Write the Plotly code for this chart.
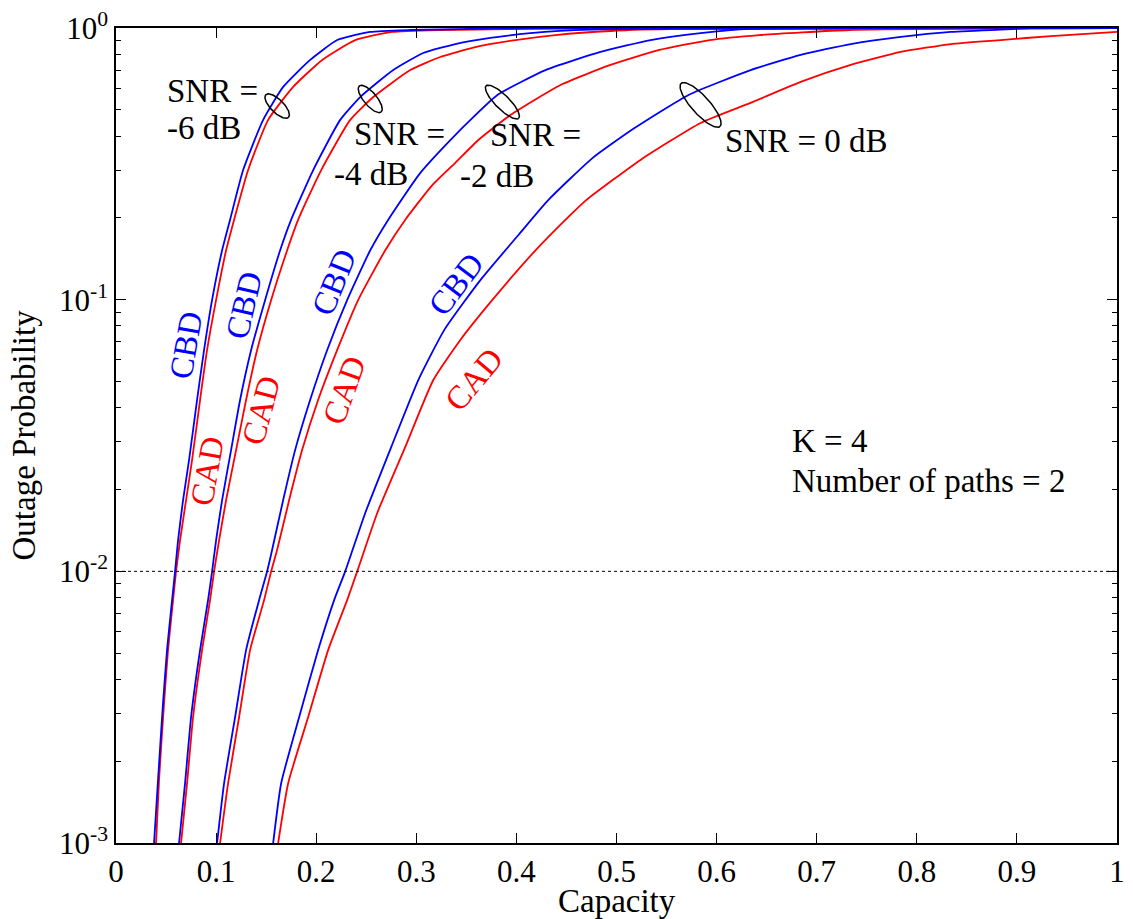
import numpy as np
import plotly.graph_objects as go

# ---- outage CDFs per SNR: capacity (x) and outage probability (y) ----
cap_cbd_m6 = [0.038, 0.042, 0.047, 0.051, 0.055, 0.059, 0.062, 0.067, 0.073, 0.081, 0.088, 0.096,
              0.106, 0.114, 0.127, 0.147, 0.167, 0.194, 0.221, 0.254, 0.294, 0.384, 1.0]
out_cbd_m6 = [1e-3, 1.71e-3, 3.28e-3, 5.14e-3, 7.21e-3, 1e-2, 0.013, 0.0183, 0.0257, 0.0428, 0.0653, 0.0998,
              0.152, 0.197, 0.300, 0.459, 0.607, 0.763, 0.903, 0.967, 0.983, 0.996, 1.0]
cap_cad_m6 = [0.040, 0.043, 0.048, 0.052, 0.056, 0.060, 0.064, 0.070, 0.076, 0.084, 0.091, 0.100,
              0.110, 0.118, 0.132, 0.152, 0.177, 0.206, 0.239, 0.276, 0.324, 0.454, 1.0]
out_cad_m6 = [1e-3, 1.71e-3, 3.28e-3, 5.14e-3, 7.21e-3, 1e-2, 0.013, 0.0183, 0.0257, 0.0428, 0.0653, 0.0998,
              0.152, 0.197, 0.300, 0.459, 0.607, 0.763, 0.903, 0.967, 0.983, 0.996, 1.0]

cap_cbd_m4 = [0.063, 0.069, 0.075, 0.084, 0.092, 0.096, 0.100, 0.106, 0.115, 0.124, 0.135, 0.149,
              0.164, 0.175, 0.197, 0.224, 0.244, 0.277, 0.307, 0.339, 0.374, 0.414, 0.474, 1.0]
out_cbd_m4 = [1e-3, 1.66e-3, 2.91e-3, 5.14e-3, 7.85e-3, 1e-2, 0.013, 0.0183, 0.028, 0.0428, 0.0653, 0.0998,
              0.152, 0.197, 0.300, 0.459, 0.557, 0.700, 0.809, 0.873, 0.919, 0.958, 0.987, 1.0]
cap_cad_m4 = [0.065, 0.071, 0.077, 0.086, 0.094, 0.098, 0.103, 0.110, 0.120, 0.130, 0.141, 0.155,
              0.171, 0.182, 0.205, 0.234, 0.257, 0.294, 0.324, 0.359, 0.399, 0.439, 0.494, 0.564, 1.0]
out_cad_m4 = [1e-3, 1.66e-3, 2.91e-3, 5.14e-3, 7.85e-3, 1e-2, 0.013, 0.0183, 0.028, 0.0428, 0.0653, 0.0998,
              0.152, 0.197, 0.300, 0.459, 0.557, 0.700, 0.782, 0.851, 0.903, 0.942, 0.975, 0.992, 1.0]

cap_cbd_m2 = [0.101, 0.108, 0.119, 0.130, 0.143, 0.151, 0.156, 0.167, 0.179, 0.194, 0.211, 0.231,
              0.254, 0.272, 0.304, 0.334, 0.359, 0.381, 0.429, 0.484, 0.534, 0.584, 0.634, 1.0]
out_cbd_m2 = [1e-3, 1.66e-3, 2.91e-3, 5.14e-3, 7.85e-3, 1e-2, 0.012, 0.0183, 0.028, 0.0428, 0.0653, 0.0998,
              0.152, 0.197, 0.293, 0.387, 0.478, 0.567, 0.700, 0.816, 0.903, 0.958, 0.992, 1.0]
cap_cad_m2 = [0.104, 0.112, 0.123, 0.134, 0.148, 0.155, 0.161, 0.173, 0.186, 0.202, 0.221, 0.242,
              0.269, 0.289, 0.316, 0.339, 0.362, 0.394, 0.444, 0.494, 0.543, 0.593, 0.643, 0.733, 1.0]
out_cad_m2 = [1e-3, 1.66e-3, 2.91e-3, 5.14e-3, 7.85e-3, 1e-2, 0.012, 0.0183, 0.028, 0.0428, 0.0653, 0.0998,
              0.152, 0.197, 0.264, 0.319, 0.387, 0.478, 0.617, 0.731, 0.830, 0.903, 0.942, 0.983, 1.0]

cap_cbd_0 = [0.157, 0.165, 0.183, 0.202, 0.218, 0.229, 0.249, 0.275, 0.302, 0.328, 0.364, 0.402,
             0.432, 0.476, 0.518, 0.572, 0.634, 0.684, 0.734, 0.784, 0.834, 0.884, 0.914, 1.0]
out_cbd_0 = [1e-3, 1.66e-3, 2.91e-3, 5.14e-3, 7.85e-3, 1e-2, 0.0164, 0.0287, 0.0506, 0.0774, 0.118, 0.173,
             0.233, 0.332, 0.428, 0.567, 0.700, 0.796, 0.873, 0.927, 0.967, 0.987, 0.996, 1.0]
cap_cad_0 = [0.162, 0.172, 0.192, 0.212, 0.231, 0.241, 0.261, 0.289, 0.317, 0.344, 0.376, 0.417,
             0.454, 0.470, 0.524, 0.584, 0.634, 0.684, 0.734, 0.784, 0.834, 0.884, 0.934, 1.0]
out_cad_0 = [1e-3, 1.66e-3, 2.91e-3, 5.14e-3, 7.85e-3, 1e-2, 0.0164, 0.0287, 0.0506, 0.0711, 0.0998, 0.149,
             0.205, 0.233, 0.327, 0.447, 0.530, 0.633, 0.731, 0.816, 0.873, 0.903, 0.934, 0.967]

target_outage = 1e-2

x_ticks = [0, 0.1, 0.2, 0.3, 0.4, 0.5, 0.6, 0.7, 0.8, 0.9, 1]
x_tick_text = ["0", "0.1", "0.2", "0.3", "0.4", "0.5", "0.6", "0.7", "0.8", "0.9", "1"]
y_ticks = [1e-3, 1e-2, 1e-1, 1]
y_tick_text = ["10<sup>-3</sup>", "10<sup>-2</sup>", "10<sup>-1</sup>", "10<sup>0</sup>"]
y_minor = [m * 10.0 ** e for e in (-3, -2, -1) for m in range(2, 10)]

FONT = "Liberation Serif"
FS = 33
FS_TICK = 31
BLUE = "#0000ff"
RED = "#ff0000"

W, H = 1001, 815          # plot area in px
M_L, M_R, M_T, M_B = 116, 16, 28, 76

fig = go.Figure()

curves = [
    (cap_cad_m6, out_cad_m6, RED), (cap_cbd_m6, out_cbd_m6, BLUE),
    (cap_cad_m4, out_cad_m4, RED), (cap_cbd_m4, out_cbd_m4, BLUE),
    (cap_cad_m2, out_cad_m2, RED), (cap_cbd_m2, out_cbd_m2, BLUE),
    (cap_cad_0, out_cad_0, RED), (cap_cbd_0, out_cbd_0, BLUE),
]
for cx, py, col in curves:
    fig.add_trace(go.Scatter(x=cx, y=py, mode="lines",
                             line=dict(color=col, width=1.8, shape="spline", smoothing=0.5),
                             hoverinfo="skip", showlegend=False))

# 1% outage reference line
fig.add_trace(go.Scatter(x=[0, 1], y=[target_outage, target_outage], mode="lines",
                         line=dict(color="black", width=1, dash="dot"),
                         hoverinfo="skip", showlegend=False))


def ellipse(cx, p, a, b, ang_deg):
    """Small ellipse (semi-axes a, b in px) grouping a curve pair."""
    t = np.linspace(0, 2 * np.pi, 120)
    ang = np.radians(ang_deg)
    ox = a * np.cos(t) * np.cos(ang) - b * np.sin(t) * np.sin(ang)
    oy = a * np.cos(t) * np.sin(ang) + b * np.sin(t) * np.cos(ang)
    xs = cx + ox / W
    ys = 10 ** (np.log10(p) + oy / H * 3)
    return xs, ys


for cx, p, a, b, ang in [(0.161, 0.516, 16, 6.5, -45),
                         (0.254, 0.548, 17, 6.5, -50),
                         (0.386, 0.534, 23, 7, -45),
                         (0.584, 0.521, 29, 9, -48)]:
    ex, ey = ellipse(cx, p, a, b, ang)
    fig.add_trace(go.Scatter(x=ex, y=ey, mode="lines", line=dict(color="black", width=1.5),
                             hoverinfo="skip", showlegend=False))

annotations = []
for txt, x, y in [("SNR =", 0.049, -0.232), ("-6 dB", 0.049, -0.368),
                  ("SNR =", 0.236, -0.390), ("-4 dB", 0.216, -0.537),
                  ("SNR =", 0.372, -0.394), ("-2 dB", 0.342, -0.545),
                  ("SNR = 0 dB", 0.606, -0.416),
                  ("K = 4", 0.673, -1.520), ("Number of paths = 2", 0.673, -1.667)]:
    annotations.append(dict(text=txt, x=x, y=y, xref="x", yref="y", xanchor="left",
                            yanchor="middle", showarrow=False,
                            font=dict(family=FONT, size=FS, color="black")))

for txt, col, x, y, ang in [("CBD", BLUE, 0.070, -1.167, -80), ("CAD", RED, 0.091, -1.630, -80),
                            ("CBD", BLUE, 0.128, -1.020, -77), ("CAD", RED, 0.145, -1.406, -75),
                            ("CBD", BLUE, 0.218, -0.935, -68), ("CAD", RED, 0.228, -1.332, -70),
                            ("CBD", BLUE, 0.340, -0.942, -53), ("CAD", RED, 0.358, -1.292, -50)]:
    annotations.append(dict(text=txt, x=x, y=y, xref="x", yref="y", xanchor="center",
                            yanchor="middle", showarrow=False, textangle=ang,
                            font=dict(family=FONT, size=FS, color=col)))

# axis titles placed explicitly below / left of the plot area
annotations.append(dict(text="Capacity", x=0.5, y=-(881 - 843) / H, xref="paper", yref="paper",
                        xanchor="center", yanchor="top", showarrow=False,
                        font=dict(family=FONT, size=FS, color="black")))
annotations.append(dict(text="Outage Probability", x=-(M_L - 23) / W, y=0.5, xref="paper", yref="paper",
                        xanchor="center", yanchor="middle", textangle=-90, showarrow=False,
                        font=dict(family=FONT, size=FS, color="black")))

axis_common = dict(showline=True, linecolor="black", linewidth=1.5, mirror="allticks",
                   ticks="inside", ticklen=10, tickwidth=1.2, tickcolor="black",
                   showgrid=False, zeroline=False,
                   tickfont=dict(family=FONT, size=FS_TICK, color="black"))

fig.update_layout(
    width=1133, height=919,
    margin=dict(l=M_L, r=M_R, t=M_T, b=M_B, autoexpand=False),
    paper_bgcolor="white", plot_bgcolor="white",
    annotations=annotations,
    xaxis=dict(range=[0, 1], tickvals=x_ticks, ticktext=x_tick_text, **axis_common),
    yaxis=dict(type="log", range=[-3, 0], tickvals=y_ticks, ticktext=y_tick_text,
               minor=dict(tickvals=y_minor, ticks="inside", ticklen=5, tickwidth=1.2, tickcolor="black"),
               **axis_common),
)

fig.write_html("out.html")
